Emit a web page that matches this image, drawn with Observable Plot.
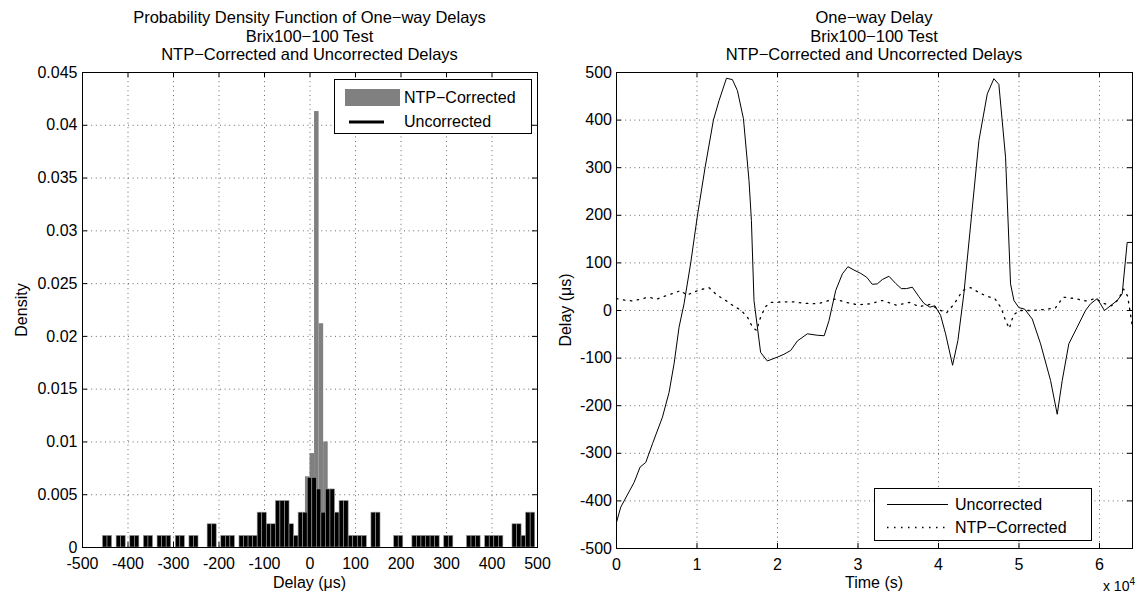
<!DOCTYPE html>
<html><head><meta charset="utf-8">
<script src="https://cdn.jsdelivr.net/npm/d3@7"></script>
<script src="https://cdn.jsdelivr.net/npm/@observablehq/plot@0.6"></script>
<style>
body{margin:0;background:#fff;}
#fig{position:relative;width:1139px;height:597px;font-family:"Liberation Sans",Arial,Helvetica,sans-serif;color:#000;overflow:hidden;background:#fff}
.t{position:absolute;font-size:16px;white-space:nowrap;line-height:1}
.c{transform:translateX(-50%)}
.r{transform:translate(-50%,-50%) rotate(-90deg)}
.leg{position:absolute;border:1px solid #000;background:#fff;box-sizing:border-box}
.plot{position:absolute;top:0}
</style></head><body><div id="fig"></div>
<script>
// ---------- data ----------
const leftTitle = ["Probability Density Function of One\u2212way Delays","Brix100\u2212100 Test","NTP\u2212Corrected and Uncorrected Delays"];
const rightTitle = ["One\u2212way Delay","Brix100\u2212100 Test","NTP\u2212Corrected and Uncorrected Delays"];
const delayTicks = [-500,-400,-300,-200,-100,0,100,200,300,400,500];
const densityTicks = [0,0.005,0.01,0.015,0.02,0.025,0.03,0.035,0.04,0.045];
const timeTicks = [0,10000,20000,30000,40000,50000,60000];
const delayYTicks = [-500,-400,-300,-200,-100,0,100,200,300,400,500];
const binWidth = 10;
// Uncorrected histogram (bin centres, density)
const uncBinCenter = [-450,-440,-420,-410,-390,-380,-360,-350,-330,-320,-310,-290,-280,-260,-250,-220,-210,-190,-180,-170,-150,-140,-130,-120,-110,-100,-90,-80,-70,-60,-50,-40,-30,-20,-10,0,10,20,30,40,50,60,70,80,90,100,110,120,140,150,190,200,230,240,250,260,270,280,300,310,350,360,370,390,400,410,420,450,460,470,480,490];
const uncDensity = [0.0011,0.0011,0.0011,0.0011,0.0011,0.0011,0.0011,0.0011,0.0011,0.0011,0.0011,0.0011,0.0011,0.0011,0.0011,0.0022,0.0022,0.0011,0.0011,0.0011,0.0011,0.0011,0.0011,0.0011,0.0033,0.0033,0.0022,0.0022,0.0044,0.0044,0.0044,0.0022,0.0011,0.0033,0.0033,0.0066,0.0066,0.0055,0.0033,0.0055,0.0055,0.0033,0.0044,0.0044,0.0011,0.0011,0.0011,0.0011,0.0033,0.0033,0.0011,0.0011,0.0011,0.0011,0.0011,0.0011,0.0011,0.0011,0.0011,0.0011,0.0011,0.0011,0.0011,0.0011,0.0011,0.0011,0.0011,0.0022,0.0022,0.0011,0.0033,0.0033];
// NTP-corrected histogram
const ntpBinCenter = [-35,-25,-15,-5,5,15,25,35,45,55,65];
const ntpDensity = [0.001,0.001,0.003,0.0067,0.0089,0.0413,0.0212,0.0100,0.004,0.003,0.001];
// Time series
const uncTime = [0,530,2190,2930,3640,4470,5710,6530,7150,7770,8390,9220,10060,11000,12040,12740,13660,14400,15020,15770,16460,16760,17080,17900,18740,19980,20800,21640,22470,23710,24950,25800,26400,27230,28060,28750,29500,30330,31070,31780,32400,33020,33840,34670,35380,36040,36750,37570,38190,38930,39550,40260,40880,41750,42410,43150,45020,46060,46880,47500,48330,48950,49370,49990,50690,51650,52680,53920,54750,55370,56190,57230,58260,58880,59720,60620,61370,62200,62820,63440,64100];
const uncDelay = [-445,-413,-361,-329,-319,-280,-224,-172,-112,-35,14,100,200,300,400,441,488,485,462,403,273,189,21,-88,-106,-98,-92,-84,-64,-49,-52,-53,-21,42,77,92,85,78,70,55,56,65,72,57,46,46,49,29,15,7,10,-10,-49,-115,-63,35,357,455,487,475,322,56,21,6,3,-18,-70,-147,-218,-147,-70,-35,0,14,25,0,10,21,35,143,143];
const ntpTime = [0,1000,2000,3000,4000,5000,6000,7000,8000,8700,9500,10500,11500,12500,13500,14500,15500,16300,16900,17400,17900,18500,19200,20500,22000,23500,25000,26200,27200,28500,30000,31500,33000,34800,36400,37600,39000,40000,41000,42000,43000,44000,45000,46000,47000,47800,48300,48800,49300,50000,51500,53000,54500,55500,57000,58300,59500,60500,61500,62300,63000,63500,64100];
const ntpDelay = [25,22,20,24,28,24,30,36,42,32,38,44,48,32,22,10,0,-15,-35,-42,-14,8,17,18,18,15,14,20,24,17,12,14,21,11,17,8,13,2,-5,15,42,48,38,30,25,5,-20,-38,-10,0,0,2,5,28,25,20,25,15,10,22,45,30,-35];

// ---------- build ----------
const FONT = '"Liberation Sans",Arial,Helvetica,sans-serif';
const fig = document.getElementById("fig");
function addText(txt, x, y, cls, size){
  const d = document.createElement("div");
  d.className = "t " + (cls||"");
  d.style.left = x + "px"; d.style.top = y + "px";
  if (size) d.style.fontSize = size + "px";
  d.innerHTML = txt;
  fig.appendChild(d);
  return d;
}
const gridStyle = {stroke:"#000", strokeOpacity:0.75, strokeWidth:0.8, strokeDasharray:"1,3.6"};

const uncBins = uncBinCenter.map((c,i)=>({lo:c-binWidth/2, hi:c+binWidth/2, d:uncDensity[i]}));
const ntpBins = ntpBinCenter.map((c,i)=>({lo:c-binWidth/2, hi:c+binWidth/2, d:ntpDensity[i]}));

// Left chart
const L = {w:570, h:597, ml:82, mr:33, mt:72, mb:50};
const Liw = L.w-L.ml-L.mr, Lih = L.h-L.mt-L.mb;
const left = Plot.plot({
  width:L.w, height:L.h, marginLeft:L.ml, marginRight:L.mr, marginTop:L.mt, marginBottom:L.mb,
  style:{fontFamily:FONT, fontSize:"16px", background:"transparent", color:"#000"},
  x:{domain:[-500,500], label:null},
  y:{domain:[0,0.045], label:null},
  marks:[
    Plot.gridX(delayTicks, gridStyle),
    Plot.gridY(densityTicks, gridStyle),
    Plot.rect(ntpBins, {x1:"lo", x2:"hi", y1:0, y2:"d", fill:"#808080"}),
    Plot.rect(uncBins, {x1:"lo", x2:"hi", y1:0, y2:"d", fill:"#000", stroke:"#9a9a9a", strokeWidth:0.6}),
    Plot.axisX(delayTicks, {tickSize:0, tickPadding:10, tickFormat:d=>String(d), label:null}),
    Plot.axisY(densityTicks, {tickSize:0, tickPadding:5, tickFormat:d=>String(d), label:null}),
    Plot.tickX(delayTicks, {x:d=>d, insetTop:Lih-5, stroke:"#000"}),
    Plot.tickX(delayTicks, {x:d=>d, insetBottom:Lih-5, stroke:"#000"}),
    Plot.tickY(densityTicks, {y:d=>d, insetRight:Liw-5, stroke:"#000"}),
    Plot.tickY(densityTicks, {y:d=>d, insetLeft:Liw-5, stroke:"#000"}),
    Plot.frame({stroke:"#000", strokeWidth:1})
  ]
});
left.classList.add("plot"); left.style.left = "0px";
fig.appendChild(left);

// Right chart
const R = {x0:570, w:569, h:597, ml:46, mr:7, mt:72, mb:49};
const Riw = R.w-R.ml-R.mr, Rih = R.h-R.mt-R.mb;
const uncSeries = uncTime.map((t,i)=>({t, v:uncDelay[i]}));
const ntpSeries = ntpTime.map((t,i)=>({t, v:ntpDelay[i]}));
const right = Plot.plot({
  width:R.w, height:R.h, marginLeft:R.ml, marginRight:R.mr, marginTop:R.mt, marginBottom:R.mb,
  style:{fontFamily:FONT, fontSize:"16px", background:"transparent", color:"#000"},
  x:{domain:[0,64100], label:null},
  y:{domain:[-500,500], label:null},
  marks:[
    Plot.gridX(timeTicks, gridStyle),
    Plot.gridY(delayYTicks, gridStyle),
    Plot.line(ntpSeries, {x:"t", y:"v", stroke:"#000", strokeWidth:1.3, strokeDasharray:"1.5,5.5"}),
    Plot.line(uncSeries, {x:"t", y:"v", stroke:"#000", strokeWidth:1}),
    Plot.axisX(timeTicks, {tickSize:0, tickPadding:10, tickFormat:d=>String(d/10000), label:null}),
    Plot.axisY(delayYTicks, {tickSize:0, tickPadding:4.5, tickFormat:d=>String(d), label:null}),
    Plot.tickX(timeTicks, {x:d=>d, insetTop:Rih-5, stroke:"#000"}),
    Plot.tickX(timeTicks, {x:d=>d, insetBottom:Rih-5, stroke:"#000"}),
    Plot.tickY(delayYTicks, {y:d=>d, insetRight:Riw-5, stroke:"#000"}),
    Plot.tickY(delayYTicks, {y:d=>d, insetLeft:Riw-5, stroke:"#000"}),
    Plot.frame({stroke:"#000", strokeWidth:1})
  ]
});
right.classList.add("plot"); right.style.left = R.x0 + "px";
fig.appendChild(right);

// Titles
const titleTops = [9, 27.5, 46];
const lcx = L.ml + Liw/2, rcx = R.x0 + R.ml + Riw/2;
leftTitle.forEach((s,i)=>addText(s, lcx, titleTops[i], "c", 16.5));
rightTitle.forEach((s,i)=>addText(s, rcx, titleTops[i], "c", 16.5));

// Axis labels
addText("Delay (\u03bcs)", lcx, 575, "c");
addText("Time (s)", rcx, 575, "c");
addText("Density", 22, L.mt + Lih/2, "r");
addText("Delay (\u03bcs)", 566, R.mt + Rih/2, "r");
const ex = addText('x 10<sup style="font-size:10px;vertical-align:6px;line-height:1">4</sup>', 0, 577, "", 14);
ex.style.left = "auto"; ex.style.right = "4px";

// Left legend
const lg = document.createElement("div");
lg.className = "leg";
Object.assign(lg.style, {left:"334px", top:"79px", width:"198px", height:"55px"});
lg.innerHTML = `<svg width="198" height="55" style="position:absolute;left:0;top:0">
  <rect x="10" y="9" width="55" height="17" fill="#808080"/>
  <line x1="14" x2="49" y1="42" y2="42" stroke="#000" stroke-width="3"/></svg>
  <div class="t" style="left:69px;top:9.5px">NTP\u2212Corrected</div>
  <div class="t" style="left:69px;top:34px">Uncorrected</div>`;
fig.appendChild(lg);

// Right legend
const rg = document.createElement("div");
rg.className = "leg";
Object.assign(rg.style, {left:"874px", top:"488px", width:"218px", height:"53px"});
rg.innerHTML = `<svg width="218" height="53" style="position:absolute;left:0;top:0">
  <line x1="12" x2="73" y1="15.5" y2="15.5" stroke="#000" stroke-width="1"/>
  <line x1="12" x2="73" y1="38.5" y2="38.5" stroke="#000" stroke-width="1.3" stroke-dasharray="1.5,5.5"/></svg>
  <div class="t" style="left:80px;top:7.5px">Uncorrected</div>
  <div class="t" style="left:80px;top:30.5px">NTP\u2212Corrected</div>`;
fig.appendChild(rg);
</script></body></html>
